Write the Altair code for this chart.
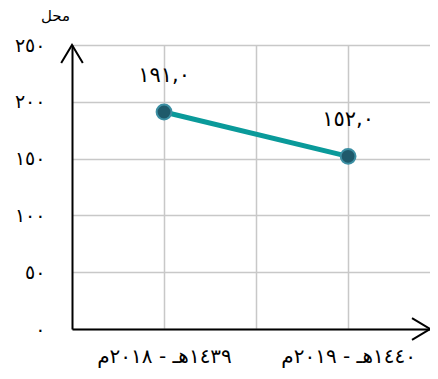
import altair as alt
import pandas as pd

# ---- data ----
years = ["١٤٣٩هـ - ٢٠١٨م", "١٤٤٠هـ - ٢٠١٩م"]
values = [191.0, 152.0]
value_labels = ["١٩١,٠", "١٥٢,٠"]
y_ticks = [0, 50, 100, 150, 200, 250]
y_tick_labels = ["٠", "٥٠", "١٠٠", "١٥٠", "٢٠٠", "٢٥٠"]
x_grid = [1, 2, 3]
x_domain = [0, 3.89]
y_domain = [0, 250]
y_title = "محل"

positions = [2 * i + 1 for i in range(len(years))]
df = pd.DataFrame({"pos": positions, "value": values, "label": value_labels, "year": years})


def label_expr(keys, labels):
    e = "''"
    for k, l in reversed(list(zip(keys, labels))):
        e = f"datum.value == {k} ? '{l}' : ({e})"
    return e


FONT = "DejaVu Sans"

xs = alt.Scale(domain=x_domain, nice=False, zero=False)
ys = alt.Scale(domain=y_domain, nice=False)

x_axis = alt.Axis(
    values=x_grid, grid=True, gridColor="#C8C8C8", gridWidth=1.5,
    domainColor="black", domainWidth=2, ticks=False,
    labelExpr=label_expr(positions, years), labelFontSize=20, labelFont=FONT,
    labelColor="black", labelPadding=17, title=None,
)
y_axis = alt.Axis(
    values=y_ticks, grid=True, gridColor="#C8C8C8", gridWidth=1.5,
    domainColor="black", domainWidth=2, ticks=False,
    labelExpr=label_expr(y_ticks, y_tick_labels), labelFontSize=19, labelFont=FONT,
    labelColor="black", labelPadding=27, title=y_title, titleAngle=0,
    titleX=-17, titleY=-30, titleAlign="center", titleBaseline="middle",
    titleFontSize=15, titleFontWeight="normal", titleFont=FONT, titleColor="black",
)

base = alt.Chart(df).encode(
    x=alt.X("pos:Q", scale=xs, axis=x_axis),
    y=alt.Y("value:Q", scale=ys, axis=y_axis),
)

line = base.mark_line(color="#0A9A9A", strokeWidth=5)
pts = base.mark_point(filled=True, fill="#1F5A6B", stroke="#3C8FA3",
                      strokeWidth=2, size=220, opacity=1, fillOpacity=1)
txt = base.mark_text(dy=-36, fontSize=21, font=FONT, color="black").encode(text="label:N")

up = pd.DataFrame({"x": [x_domain[0]], "y": [y_domain[1]]})
right = pd.DataFrame({"x": [x_domain[1]], "y": [y_domain[0]]})

arrow_up = alt.Chart(up).mark_point(
    shape="M -0.6 1 L 0 0 L 0.6 1", size=1296, filled=False,
    stroke="black", strokeWidth=2, opacity=1,
).encode(x=alt.X("x:Q", scale=xs), y=alt.Y("y:Q", scale=ys))
arrow_right = alt.Chart(right).mark_point(
    shape="M -1 -0.6 L 0 0 L -1 0.6", size=1296, filled=False,
    stroke="black", strokeWidth=2, opacity=1,
).encode(x=alt.X("x:Q", scale=xs), y=alt.Y("y:Q", scale=ys))

chart = alt.layer(line, pts, txt, arrow_up, arrow_right).properties(
    width=358, height=284,
    autosize=alt.AutoSizeParams(type="none"),
    padding={"left": 64, "top": 37, "right": 0, "bottom": 42},
).configure_view(strokeWidth=0)

chart.save("out.html", embed_options={"renderer": "svg", "actions": False})
